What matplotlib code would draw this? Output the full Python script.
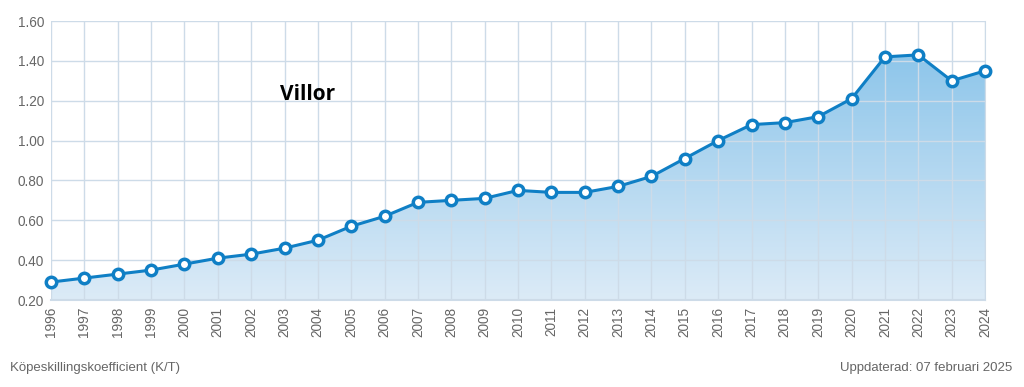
import numpy as np
import matplotlib.pyplot as plt
from matplotlib.colors import LinearSegmentedColormap
from matplotlib.patches import Polygon

plt.rcParams['font.family'] = ['Liberation Sans', 'DejaVu Sans']

years = list(range(1996, 2025))
values = [0.29, 0.31, 0.33, 0.35, 0.38, 0.41, 0.43, 0.46, 0.50, 0.57,
          0.62, 0.69, 0.70, 0.71, 0.75, 0.74, 0.74, 0.77, 0.82, 0.91,
          1.00, 1.08, 1.09, 1.12, 1.21, 1.42, 1.43, 1.30, 1.35]
yticks = [0.20, 0.40, 0.60, 0.80, 1.00, 1.20, 1.40, 1.60]

line_col = '#0f7fc5'
grid_col = '#cddbe8'

fig = plt.figure(figsize=(10.24, 3.87), dpi=100)
ax = fig.add_axes([51 / 1024, 87 / 387, 934 / 1024, 279 / 387])

# gradient fill under the line
cmap = LinearSegmentedColormap.from_list('fill', ['#dcebf7', '#8cc5ea'])
grad = np.linspace(0, 1, 256).reshape(-1, 1)
img = ax.imshow(grad, cmap=cmap, aspect='auto', origin='lower',
                extent=[years[0], years[-1], 0.2, 1.45], zorder=1)
verts = [(years[0], 0.2)] + list(zip(years, values)) + [(years[-1], 0.2)]
clip = Polygon(verts, closed=True, facecolor='none', edgecolor='none')
ax.add_patch(clip)
img.set_clip_path(clip)

ax.plot(years, values, color=line_col, lw=2.2, zorder=3,
        marker='o', ms=7.5, mfc='white', mec=line_col, mew=2.5, clip_on=False)

ax.set_xlim(years[0], years[-1])
ax.set_ylim(0.2, 1.6)
ax.set_xticks(years)
ax.set_xticklabels([str(y) for y in years], rotation=90, fontsize=9.8, color='#666666')
ax.set_yticks(yticks)
ax.set_yticklabels(['%.2f' % v for v in yticks], fontsize=9.8, color='#666666')
ax.tick_params(length=0, pad=5)
ax.grid(True, color=grid_col, lw=1, zorder=2)
ax.set_axisbelow(False)
for s in ['top', 'left']:
    ax.spines[s].set_visible(False)
ax.spines['right'].set_color(grid_col)
ax.spines['right'].set_zorder(2)
ax.spines['bottom'].set_color(grid_col)
ax.spines['bottom'].set_linewidth(1.5)

ax.text(2003.7, 1.23, 'Villor', fontsize=15, fontweight='bold',
        family='Open Sans', ha='center', va='center', zorder=4)

fig.text(10 / 1024, 1 - 368 / 387, 'Köpeskillingskoefficient (K/T)',
         fontsize=9.5, color='#666666', va='center', ha='left')
fig.text(1012 / 1024, 1 - 368 / 387, 'Uppdaterad: 07 februari 2025',
         fontsize=9.5, color='#666666', va='center', ha='right')

fig.savefig('out.png', dpi=100)
